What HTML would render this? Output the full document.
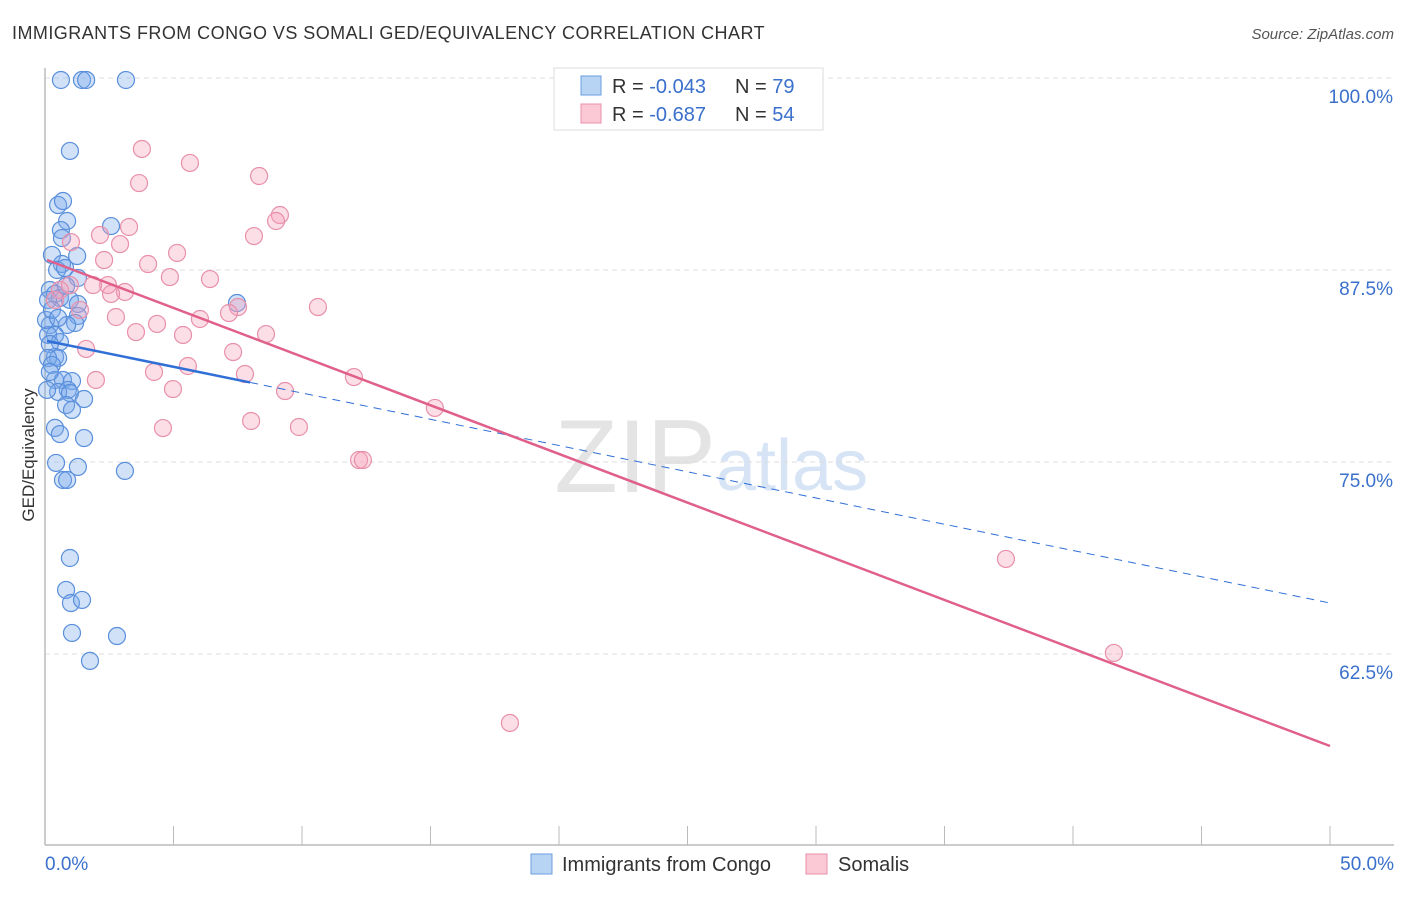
<!DOCTYPE html>
<html><head><meta charset="utf-8"><style>
body{margin:0;background:#fff;font-family:"Liberation Sans",sans-serif}
svg text{font-family:"Liberation Sans",sans-serif}
</style></head><body>
<svg id="c" width="1406" height="892">
<text x="12" y="39" font-size="18" fill="#333" letter-spacing="0.45">IMMIGRANTS FROM CONGO VS SOMALI GED/EQUIVALENCY CORRELATION CHART</text>
<text x="1394" y="39" font-size="15" fill="#555" font-style="italic" text-anchor="end">Source: ZipAtlas.com</text>
<text x="716" y="492" font-size="104" fill="#e4e4e4" text-anchor="end" font-family="Liberation Serif">ZIP</text>
<text x="716" y="490" font-size="72" fill="#d6e4f5">atlas</text>
<text transform="translate(34,455) rotate(-90)" font-size="17" fill="#333" text-anchor="middle">GED/Equivalency</text>
<g id="grid"></g><g id="pts"></g><g id="lines"></g>
<g>
<rect x="554" y="68" width="269" height="62" fill="#fff" stroke="#ddd"/>
<rect x="581" y="76" width="20" height="19" fill="#b8d4f5" stroke="#6a9ee0"/>
<rect x="581" y="104" width="20" height="19" fill="#fbc8d6" stroke="#e890aa"/>
<text x="612" y="93" font-size="20" fill="#333">R = <tspan fill="#3a70cc">-0.043</tspan></text>
<text x="735" y="93" font-size="20" fill="#333">N = <tspan fill="#3a70cc">79</tspan></text>
<text x="612" y="121" font-size="20" fill="#333">R = <tspan fill="#3a70cc">-0.687</tspan></text>
<text x="735" y="121" font-size="20" fill="#333">N = <tspan fill="#3a70cc">54</tspan></text>
</g>
<text x="45" y="870" font-size="19" fill="#3a70cc">0.0%</text>
<text x="1394" y="870" font-size="19" fill="#3a70cc" text-anchor="end">50.0%</text>
<rect x="531" y="854" width="21" height="20" fill="#b8d4f5" stroke="#6a9ee0"/>
<text x="562" y="871" font-size="20" fill="#333">Immigrants from Congo</text>
<rect x="806" y="854" width="21" height="20" fill="#fbc8d6" stroke="#e890aa"/>
<text x="838" y="871" font-size="20" fill="#333">Somalis</text>
</svg>
<script>
const congoX=[0.62,1.44,1.60,3.15,0.97,0.51,0.70,0.86,0.62,0.66,2.57,0.27,1.25,0.66,0.47,0.78,1.28,0.19,0.39,0.58,0.82,0.97,1.28,1.28,1.17,0.86,0.19,0.39,0.12,0.58,0.19,0.39,0.51,0.12,0.27,0.39,0.70,1.05,0.89,0.51,0.97,1.52,0.82,1.05,0.39,0.58,1.52,0.43,1.28,0.70,0.86,3.11,0.97,0.82,1.01,1.44,1.05,2.80,1.75,7.47,0.19,0.12,0.04,0.27,0.51,0.08];
const congoY=[99.87,99.87,99.87,99.87,95.25,91.73,91.99,90.69,90.10,89.58,90.36,88.48,88.41,87.89,87.50,87.63,86.98,86.20,85.94,85.68,86.46,85.55,85.29,84.51,84.05,83.92,83.92,83.27,83.27,82.81,82.68,81.84,81.77,81.77,81.32,80.34,80.34,80.27,79.69,79.56,79.49,79.10,78.71,78.39,77.22,76.82,76.56,74.94,74.68,73.83,73.83,74.42,68.75,66.67,65.82,66.02,63.87,63.67,62.05,85.35,80.86,85.55,84.25,84.90,84.38,79.69];
const somaliX=[3.77,5.64,3.66,8.33,9.14,8.99,2.14,3.27,2.92,8.13,1.01,5.14,2.30,4.01,4.86,6.42,2.45,1.87,3.11,2.57,10.62,7.51,7.16,6.03,2.76,4.36,3.54,5.37,8.60,1.60,7.32,5.56,4.24,7.78,12.02,1.98,4.98,9.34,15.17,4.59,8.02,9.88,12.22,12.37,37.39,41.59,18.09,0.58,0.39,0.97,1.36];
const somaliY=[95.38,94.47,93.16,93.62,91.08,90.69,89.78,90.30,89.19,89.71,89.32,88.61,88.15,87.89,87.04,86.91,86.52,86.52,86.07,85.94,85.09,85.09,84.70,84.31,84.44,83.99,83.46,83.27,83.33,82.36,82.16,81.25,80.86,80.73,80.53,80.34,79.75,79.62,78.52,77.21,77.67,77.28,75.13,75.13,68.69,62.57,58.01,86.20,85.55,86.52,84.90];
const yTicks=[100,87.5,75,62.5];
const yTickLabels=["100.0%","87.5%","75.0%","62.5%"];
const congoTrend=[0.08,82.88,50,65.82];const congoSolidEnd=7.98;
const somaliTrend=[0.08,88.15,50,56.51];
const NS="http://www.w3.org/2000/svg";
const X=v=>45+v/50*1285, Y=v=>78+(100-v)/12.5*192;
function mk(t,a,p){const e=document.createElementNS(NS,t);for(const k in a)e.setAttribute(k,a[k]);p.appendChild(e);return e;}
const g=document.getElementById('grid');
yTicks.forEach((t,i)=>{
 const l=mk('line',{x1:45,x2:1394,y1:Y(t),y2:Y(t),stroke:'#ddd','stroke-dasharray':'5,4'},g);
 
 
 const tx=mk('text',{x:1393,y:Y(t)+25,'font-size':19,fill:'#3a70cc','text-anchor':'end'},g);
 tx.textContent=yTickLabels[i];
 
 
});
const ax=mk('line',{x1:45,x2:1394,y1:845,y2:845,stroke:'#bbb','stroke-width':1.5},g);


const ay=mk('line',{x1:45,x2:45,y1:68,y2:845,stroke:'#bbb','stroke-width':1.5},g);


for(let i=1;i<=10;i++){const t=mk('line',{x1:X(i*5),x2:X(i*5),y1:826,y2:845,stroke:'#bbb'},g);
 
 }
const p=document.getElementById('pts');
congoX.forEach((x,i)=>{const c=mk('circle',{cx:X(x),cy:Y(congoY[i]),r:8.5,fill:'rgba(120,170,235,0.35)',stroke:'#5a8fdc','stroke-width':1.2},p);
 
 });
somaliX.forEach((x,i)=>{const c=mk('circle',{cx:X(x),cy:Y(somaliY[i]),r:8.5,fill:'rgba(245,160,185,0.35)',stroke:'#e890aa','stroke-width':1.2},p);
 
 });
const L=document.getElementById('lines');
const cy=x=>congoTrend[1]+(x-congoTrend[0])*(congoTrend[3]-congoTrend[1])/(congoTrend[2]-congoTrend[0]);
const l1=mk('line',{x1:X(congoTrend[0]),y1:Y(congoTrend[1]),x2:X(congoSolidEnd),y2:Y(cy(congoSolidEnd)),stroke:'#2f6fd6','stroke-width':2.5},L);


const l2=mk('line',{x1:X(congoSolidEnd),y1:Y(cy(congoSolidEnd)),x2:X(congoTrend[2]),y2:Y(congoTrend[3]),stroke:'#2f6fd6','stroke-width':1,'stroke-dasharray':'8,6'},L);


const l3=mk('line',{x1:X(somaliTrend[0]),y1:Y(somaliTrend[1]),x2:X(somaliTrend[2]),y2:Y(somaliTrend[3]),stroke:'#e0608a','stroke-width':2.5},L);


</script>
</body></html>
